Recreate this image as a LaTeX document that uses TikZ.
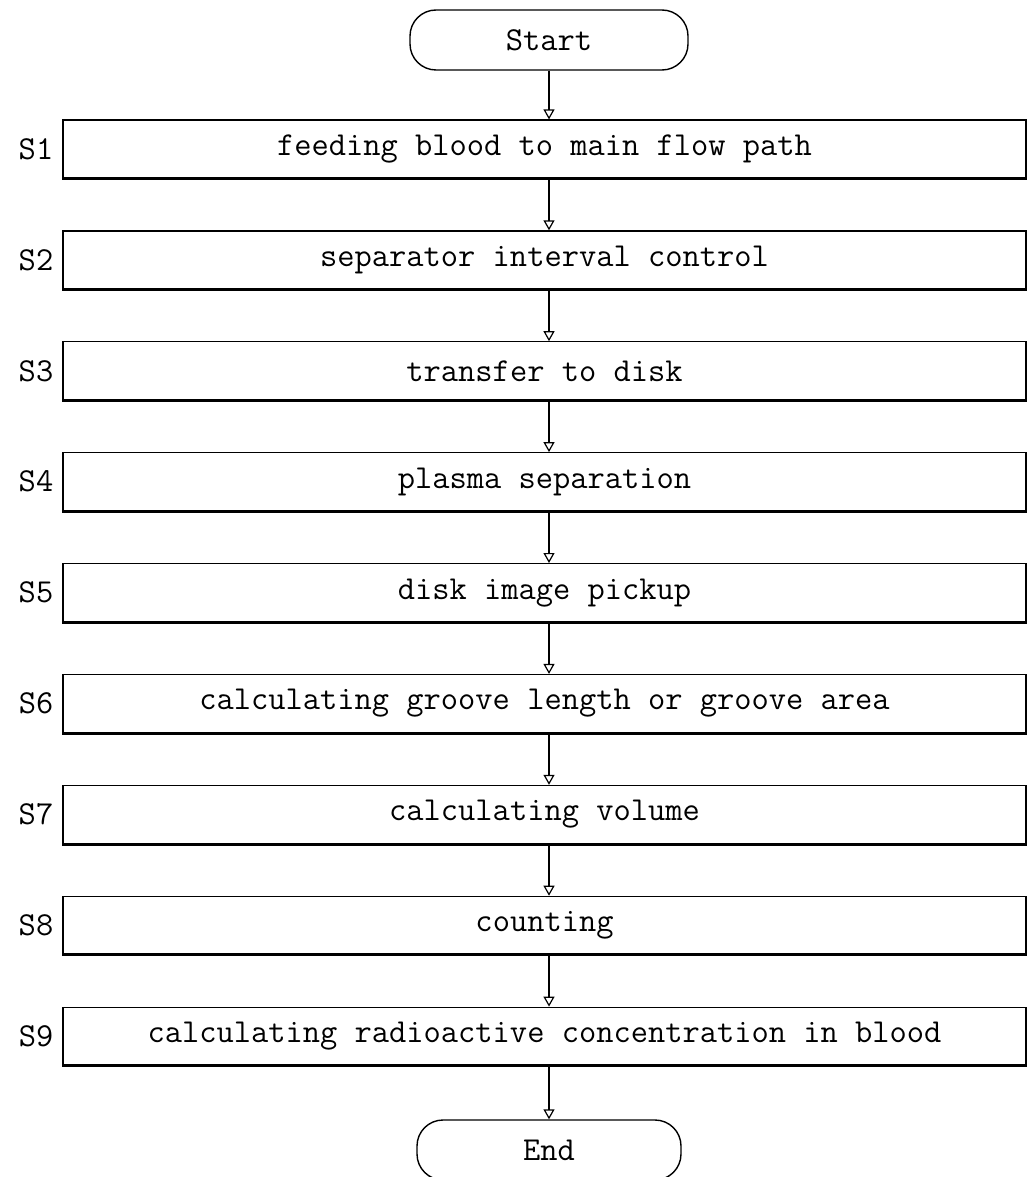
\documentclass[tikz,border=0pt]{standalone}
\usepackage{fontspec}
\usetikzlibrary{arrows.meta}

\begin{document}
\begin{tikzpicture}[x=1pt, y=-1pt, font=\ttfamily\fontsize{33.5}{38}\selectfont,
        stepbox/.style={draw, line width=1.2pt, minimum width=963pt, minimum height=58pt, inner sep=0pt},
        term/.style={draw, line width=1.4pt, rounded corners=26pt, minimum height=60pt, inner sep=0pt},
        flow/.style={line width=1.2pt, -{Triangle[open, width=11pt, length=10pt]}}]
    \useasboundingbox (0,0) rectangle (1029,1177);
    \node[term, minimum width=278pt] (start) at (549,40) {Start};
    \foreach \i/\txt in {1/feeding blood to main flow path,
                         2/separator interval control,
                         3/transfer to disk,
                         4/plasma separation,
                         5/disk image pickup,
                         6/calculating groove length or groove area,
                         7/calculating volume,
                         8/counting,
                         9/calculating radioactive concentration in blood} {
        \node[stepbox] (s\i) at (544.5, {149+110.9*(\i-1)}) {\txt};
        \draw[line width=3pt] (s\i.south west) -- (s\i.south east);
        \node (l\i) at (36, {149+110.9*(\i-1)}) {S\i};
    }
    \node[term, minimum width=264pt] (end) at (549,1150) {End};
    % arrows
    \draw[flow] (start) -- (start |- s1.north);
    \foreach \j [count=\i] in {2,...,9}
        \draw[flow] (start |- s\i.south) -- (start |- s\j.north);
    \draw[flow] (start |- s9.south) -- (end);
\end{tikzpicture}
\end{document}
